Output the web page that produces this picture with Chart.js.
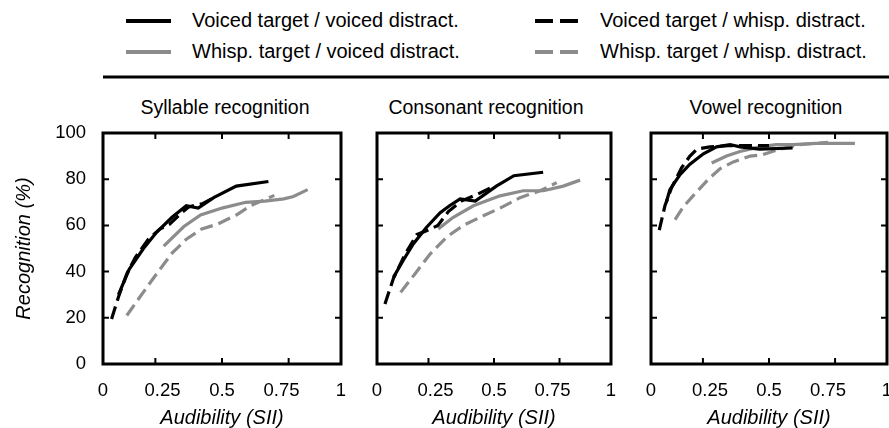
<!DOCTYPE html>
<html>
<head>
<meta charset="utf-8">
<script src="https://cdn.jsdelivr.net/npm/chart.js@4.4.1/dist/chart.umd.min.js"></script>
<style>
  body { margin: 0; width: 889px; height: 428px; background: #fff; overflow: hidden; position: relative;
         font-family: 'Liberation Sans', Arial, sans-serif; color: #000; }
  canvas { position: absolute; }
  .txt { position: absolute; white-space: nowrap; line-height: 24px; }
  .title { font-size: 19.5px; transform: translateX(-50%); }
  .leg { font-size: 20px; }
  svg { position: absolute; left: 0; top: 0; }
</style>
</head>
<body>
<svg width="889" height="90" id="legendSvg"></svg>
<div class="txt leg" style="left:192px; top:8px">Voiced target / voiced distract.</div>
<div class="txt leg" style="left:192px; top:39px">Whisp. target / voiced distract.</div>
<div class="txt leg" style="left:600px; top:8px">Voiced target / whisp. distract.</div>
<div class="txt leg" style="left:600px; top:39px">Whisp. target / whisp. distract.</div>

<div class="txt title" style="left:225px; top:95px">Syllable recognition</div>
<div class="txt title" style="left:486px; top:95px">Consonant recognition</div>
<div class="txt title" style="left:766px; top:95px">Vowel recognition</div>

<canvas id="c1" width="350" height="307" style="left:0px; top:123px"></canvas>
<canvas id="c2" width="265" height="307" style="left:355px; top:123px"></canvas>
<canvas id="c3" width="259" height="307" style="left:630px; top:123px"></canvas>

<script>
// series: voiced/voiced, voiced/whisp, whisp/voiced, whisp/whisp
const seriesLabels = ['Voiced target / voiced distract.', 'Voiced target / whisp. distract.',
                      'Whisp. target / voiced distract.', 'Whisp. target / whisp. distract.'];
const panelTitles = ['Syllable recognition', 'Consonant recognition', 'Vowel recognition'];
const xTickLabels = ['0', '0.25', '0.5', '0.75', '1'];

// Syllable
const sylVvX = [0.065, 0.11, 0.17, 0.225, 0.29, 0.35, 0.4, 0.465, 0.56, 0.695];
const sylVvY = [30, 41, 50, 57, 63.5, 68.5, 67.5, 72, 77, 79];
const sylVwX = [0.036, 0.065, 0.1, 0.135, 0.19, 0.24, 0.28, 0.33, 0.36, 0.42, 0.465];
const sylVwY = [19.5, 29, 39, 46, 54, 58.5, 60.5, 65.5, 68, 69.5, 72];
const sylWvX = [0.255, 0.34, 0.41, 0.5, 0.6, 0.68, 0.76, 0.8, 0.86];
const sylWvY = [51, 59.5, 64.5, 67.5, 70, 70.5, 71.5, 72.5, 75.5];
const sylWwX = [0.1, 0.155, 0.225, 0.29, 0.35, 0.415, 0.48, 0.56, 0.62, 0.72];
const sylWwY = [21, 29, 39, 48, 54, 58.5, 60.5, 64.5, 68.5, 73];

// Consonant
const conVvX = [0.07, 0.113, 0.155, 0.21, 0.27, 0.31, 0.355, 0.42, 0.51, 0.585, 0.71];
const conVvY = [37.5, 45, 52, 59, 65.5, 68.5, 71.5, 70.5, 77, 81.5, 83];
const conVwX = [0.034, 0.07, 0.12, 0.17, 0.22, 0.26, 0.305, 0.36, 0.43, 0.49];
const conVwY = [26, 37, 47.5, 56, 58, 60, 66, 70.5, 73.5, 76.5];
const conWvX = [0.262, 0.326, 0.412, 0.526, 0.625, 0.711, 0.796, 0.868];
const conWvY = [58.5, 63.5, 68.5, 72.8, 75, 75, 77, 79.6];
const conWwX = [0.101, 0.162, 0.226, 0.298, 0.369, 0.44, 0.526, 0.611, 0.697, 0.768];
const conWwY = [31, 39, 47.5, 55, 60, 63.5, 67.5, 72, 75, 78.5];

// Vowel
const vowVvX = [0.065, 0.08, 0.123, 0.165, 0.222, 0.278, 0.335, 0.377, 0.46, 0.6];
const vowVvY = [70, 75.5, 82, 86.5, 91, 94, 95, 94, 93, 93.5];
const vowVwX = [0.035, 0.059, 0.088, 0.13, 0.165, 0.194, 0.25, 0.33, 0.5];
const vowVwY = [58, 68.5, 76.5, 85, 90, 93, 94, 94.5, 94.5];
const vowWvX = [0.257, 0.32, 0.377, 0.46, 0.53, 0.6, 0.7, 0.864];
const vowWvY = [87, 90, 92, 94, 95, 95, 95.5, 95.5];
const vowWwX = [0.102, 0.137, 0.18, 0.243, 0.292, 0.349, 0.42, 0.47, 0.53, 0.63, 0.75];
const vowWwY = [62.5, 68, 73, 80, 84.5, 87.5, 90, 90.5, 92.5, 95, 96];

const xTickMarks = [0.22, 0.5, 0.78];
const yTickMarks = [20, 40, 60, 80];

const black = '#000000';
const gray = '#8c8c8c';
const dash = [13, 6];

// legend swatches + rule
const svg = document.getElementById('legendSvg');
svg.innerHTML =
    '<line x1="126" y1="21" x2="171" y2="21" stroke="' + black + '" stroke-width="4"/>' +
    '<line x1="126" y1="52" x2="171" y2="52" stroke="' + gray + '" stroke-width="4"/>' +
    '<line x1="535" y1="21" x2="578" y2="21" stroke="' + black + '" stroke-width="4" stroke-dasharray="18 7"/>' +
    '<line x1="535" y1="52" x2="578" y2="52" stroke="' + gray + '" stroke-width="4" stroke-dasharray="18 7"/>' +
    '<line x1="103" y1="77" x2="889" y2="77" stroke="#000" stroke-width="3"/>';

const toPoints = (xs, ys) => xs.map((x, i) => ({x: x, y: ys[i]}));

// box around the plot area with inward tick marks
const boxPlugin = {
    id: 'box',
    afterDatasetsDraw(chart) {
        const {ctx, chartArea: a, scales} = chart;
        ctx.save();
        ctx.strokeStyle = '#000';
        ctx.lineWidth = 2;
        ctx.beginPath();
        xTickMarks.forEach((v) => {
            const px = scales.x.getPixelForValue(v);
            ctx.moveTo(px, a.bottom); ctx.lineTo(px, a.bottom - 6);
            ctx.moveTo(px, a.top); ctx.lineTo(px, a.top + 6);
        });
        yTickMarks.forEach((v) => {
            const py = scales.y.getPixelForValue(v);
            ctx.moveTo(a.left, py); ctx.lineTo(a.left + 6, py);
            ctx.moveTo(a.right, py); ctx.lineTo(a.right - 6, py);
        });
        ctx.stroke();
        ctx.lineWidth = 3;
        ctx.strokeRect(a.left, a.top, a.right - a.left, a.bottom - a.top);
        ctx.restore();
    }
};

function makePanel(id, title, vv, vw, wv, ww, yWidth, padRight, showY) {
    const ctx = document.getElementById(id).getContext('2d');
    return new Chart(ctx, {
        type: 'line',
        data: {
            datasets: [
                {label: seriesLabels[0], data: vv, borderColor: black},
                {label: seriesLabels[1], data: vw, borderColor: black, borderDash: dash},
                {label: seriesLabels[2], data: wv, borderColor: gray},
                {label: seriesLabels[3], data: ww, borderColor: gray, borderDash: dash},
            ]
        },
        options: {
            responsive: false,
            animation: false,
            layout: {padding: {top: 10, right: padRight, left: 0, bottom: 0}},
            elements: {
                point: {radius: 0},
                line: {borderWidth: 3.2, tension: 0, fill: false}
            },
            plugins: {
                legend: {display: false},
                title: {display: false, text: title},
                tooltip: {enabled: false}
            },
            scales: {
                x: {
                    type: 'linear', min: 0, max: 1,
                    grid: {display: false, drawTicks: false},
                    border: {display: false},
                    ticks: {stepSize: 0.25, padding: 16, color: '#000', maxRotation: 0, autoSkip: false,
                            callback: (v, i) => xTickLabels[i],
                            font: {family: 'Liberation Sans', size: 18.5}},
                    title: {display: true, text: 'Audibility (SII)', color: '#000', padding: 0,
                            font: {family: 'Liberation Sans', size: 20, style: 'italic'}},
                    afterFit: (s) => { s.height = 66; s.paddingLeft = 0; s.paddingRight = 0; }
                },
                y: {
                    type: 'linear', min: 0, max: 100,
                    grid: {display: false, drawTicks: false},
                    border: {display: false},
                    ticks: {display: showY, stepSize: 20, padding: 17, color: '#000',
                            font: {family: 'Liberation Sans', size: 18.5}},
                    title: {display: showY, text: 'Recognition (%)', color: '#000', padding: {top: 12},
                            font: {family: 'Liberation Sans', size: 20, style: 'italic'}},
                    afterFit: (s) => { s.width = yWidth; s.paddingTop = 0; s.paddingBottom = 0; }
                }
            }
        },
        plugins: [boxPlugin]
    });
}

makePanel('c1', panelTitles[0], toPoints(sylVvX, sylVvY), toPoints(sylVwX, sylVwY),
          toPoints(sylWvX, sylWvY), toPoints(sylWwX, sylWwY), 103, 9, true);
makePanel('c2', panelTitles[1], toPoints(conVvX, conVvY), toPoints(conVwX, conVwY),
          toPoints(conWvX, conWvY), toPoints(conWwX, conWwY), 22, 9, false);
makePanel('c3', panelTitles[2], toPoints(vowVvX, vowVvY), toPoints(vowVwX, vowVwY),
          toPoints(vowWvX, vowWvY), toPoints(vowWwX, vowWwY), 21, 2, false);
</script>
</body>
</html>
